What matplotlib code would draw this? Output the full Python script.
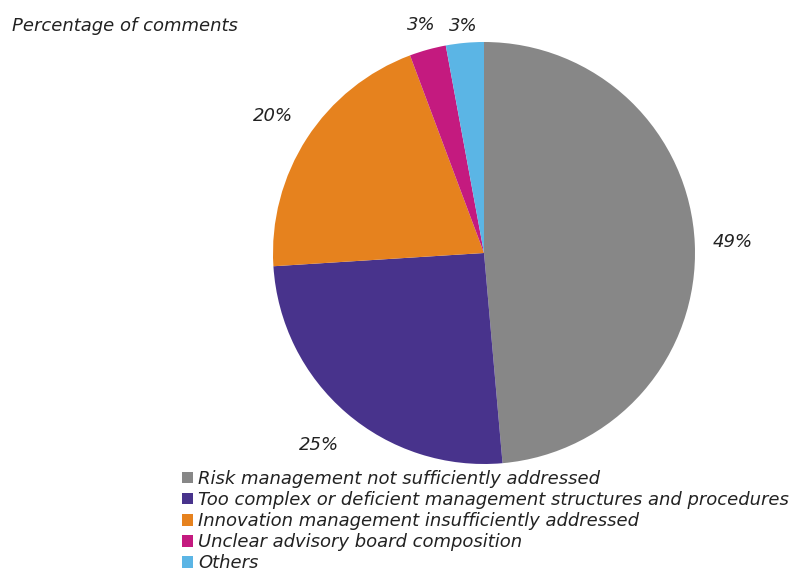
import matplotlib
matplotlib.use("Agg")
import matplotlib.pyplot as plt
import numpy as np

categories = ["Risk management not sufficiently addressed",
              "Too complex or deficient management structures and procedures",
              "Innovation management insufficiently addressed",
              "Unclear advisory board composition",
              "Others"]
values = [48.6, 25.4, 20.3, 2.8, 2.9]
pct_labels = ["49%", "25%", "20%", "3%", "3%"]
colors = ["#878787", "#48338c", "#e6821e", "#c41a7f", "#5bb5e5"]
label_dist = [1.18, 1.2, 1.19, 1.12, 1.08]

fig = plt.figure(figsize=(7.92, 5.76), dpi=100)
# pie area: about 422 px square, centred near (484, 253)
ax = fig.add_axes([273 / 792, (576 - 464) / 576, 422 / 792, 422 / 576])

wedges, _ = ax.pie(values, colors=colors, startangle=90, counterclock=False,
                   radius=1.0, wedgeprops=dict(linewidth=0))
ax.set_xlim(-1, 1)
ax.set_ylim(-1, 1)
ax.set_aspect("equal")

for w, lab, d in zip(wedges, pct_labels, label_dist):
    ang = np.deg2rad((w.theta1 + w.theta2) / 2)
    ax.text(d * np.cos(ang), d * np.sin(ang), lab, ha="center", va="center",
            fontsize=13, style="italic", color="#222222", clip_on=False)

fig.text(12 / 792, 1 - 26 / 576, "Percentage of comments", fontsize=13,
         style="italic", color="#222222", va="center", ha="left")

fig.legend(wedges, categories, loc="upper left",
           bbox_to_anchor=(182 / 792, 1 - 470 / 576), frameon=False,
           prop=dict(size=13, style="italic"), labelcolor="#222222",
           handlelength=0.6, handleheight=0.6, handletextpad=0.3,
           labelspacing=0.17, borderpad=0, borderaxespad=0)

fig.savefig("out.png", dpi=100)
